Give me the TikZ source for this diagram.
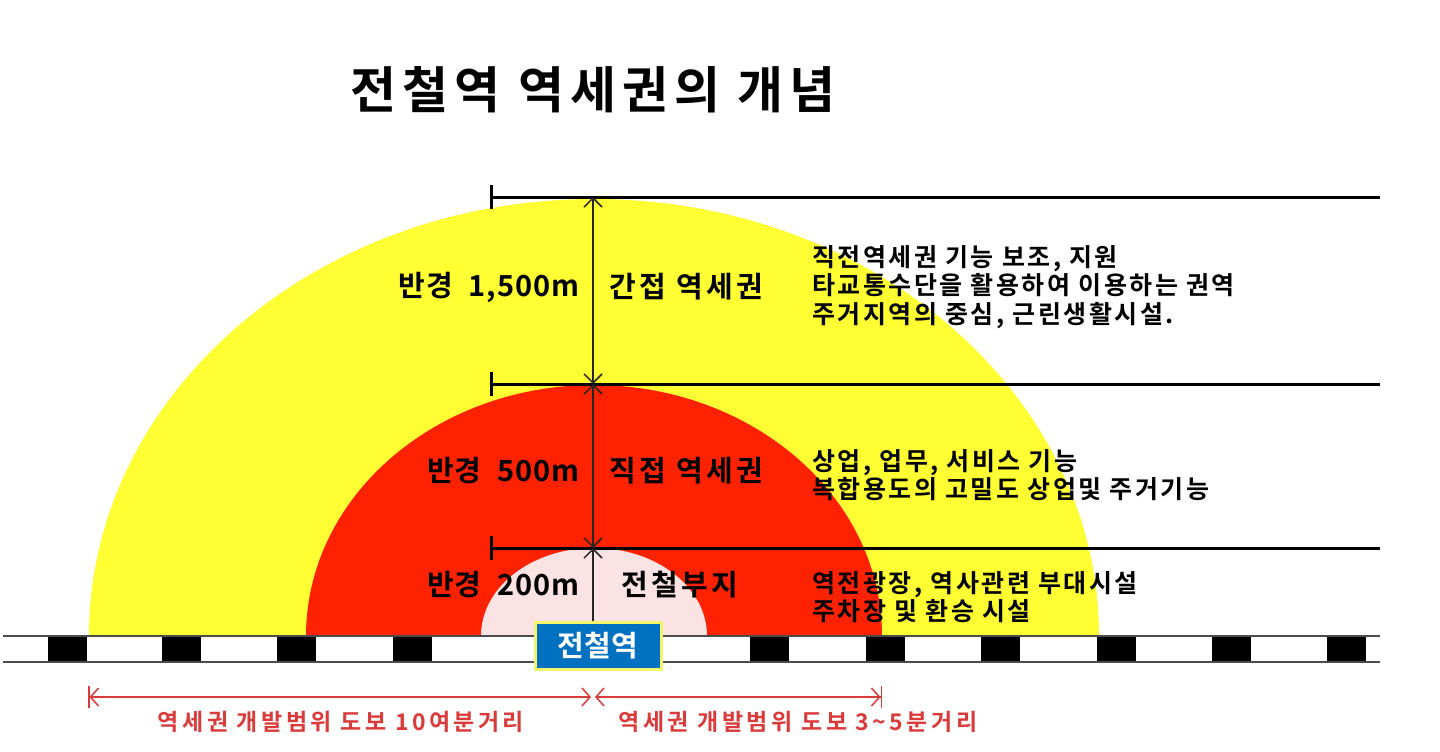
\documentclass[tikz,border=0pt]{standalone}
\usepackage{fontspec}
\setmainfont{Noto Sans CJK KR}[BoldFont={* Bold}]
\newfontfamily\titlefont{Noto Sans CJK KR}[BoldFont={* Bold},LetterSpace=12]
\newfontfamily\zonefont{Noto Sans CJK KR}[BoldFont={* Bold},LetterSpace=12]
\newfontfamily\radiusfont{Noto Sans CJK KR}[BoldFont={* Bold},LetterSpace=4,WordSpace=2]
\newfontfamily\notefont{Noto Sans CJK KR}[BoldFont={* Bold},LetterSpace=10]
\newfontfamily\rangefont{Noto Sans CJK KR}[BoldFont={* Bold},LetterSpace=15]
\usetikzlibrary{arrows.meta}
\definecolor{zoneyellow}{HTML}{FFFF33}
\definecolor{zonered}{HTML}{FF2200}
\definecolor{zonepink}{HTML}{FBE3E3}
\definecolor{stationblue}{HTML}{0070C0}
\definecolor{stationrim}{HTML}{F4F46A}
\definecolor{rangered}{HTML}{D93A3A}

\begin{document}
\begin{tikzpicture}[x=1pt,y=-1pt,
    levelline/.style={line width=3pt,{Bar[width=24pt,line width=3pt]}-},
    dimline/.style={line width=1.5pt,black!85,{Straight Barb[length=9pt,width=18pt]}-{Straight Barb[length=9pt,width=18pt]}},
    upline/.style={line width=1.5pt,black!85,-{Straight Barb[length=9pt,width=18pt]}},
    rangeleft/.style={line width=1.5pt,rangered,{Bar[width=22pt]Straight Barb[length=8pt,width=18pt]}-{Straight Barb[length=8pt,width=18pt]}},
    rangeright/.style={line width=1.5pt,rangered,{Straight Barb[length=8pt,width=18pt]}-{Straight Barb[length=8pt,width=18pt]Bar[width=22pt]}},
    radiuslabel/.style={inner sep=0pt,anchor=east,font=\radiusfont\fontsize{29}{34}\selectfont\bfseries},
    zonelabel/.style={inner sep=0pt,anchor=west,font=\zonefont\fontsize{29}{34}\selectfont\bfseries},
    note/.style={inner sep=0pt,anchor=west,align=left,font=\notefont\fontsize{25}{28.5}\selectfont\bfseries},
    rangelabel/.style={inner sep=0pt,text=rangered,font=\rangefont\fontsize{23}{26}\selectfont\bfseries},
    stationbox/.style={draw=stationrim,line width=3pt,fill=stationblue,text=white,
        minimum width=126pt,minimum height=47pt,inner sep=0pt,font=\fontsize{29}{30}\selectfont\bfseries}]
    \useasboundingbox (0,0) rectangle (1440,752);

    % title
    \node[inner sep=0pt,font=\titlefont\fontsize{50}{56}\selectfont\bfseries] (title) at (593,90) {전철역 역세권의 개념};

    % zones
    \coordinate (C) at (594,636);
    \fill[zoneyellow] (89,636) arc[start angle=180,end angle=360,x radius=505,y radius=437] -- cycle;
    \fill[zonered] (306,636) arc[start angle=180,end angle=360,x radius=288,y radius=251] -- cycle;
    \fill[zonepink] (481,636) arc[start angle=180,end angle=360,x radius=113,y radius=88] -- cycle;

    % track
    \draw[line width=2pt,black!70] (3,636) -- (1380,636);
    \draw[line width=2pt,black!70] (3,662) -- (1380,662);
    \foreach \x in {48,162,277,393,750,866,981,1097,1212,1327}
        \fill[black] (\x,637) rectangle ++(39,24);

    \node[stationbox] (station) at (598,646) {전철역};

    % levels
    \coordinate (L1) at (593,197);
    \coordinate (L2) at (593,384);
    \coordinate (L3) at (593,548);
    \draw[levelline] (490,197) -- (1380,197);
    \draw[levelline] (490,384) -- (1380,384);
    \draw[levelline] (490,548) -- (1380,548);

    \draw[dimline] (L1) -- (L2);
    \draw[dimline] (L2) -- (L3);
    \draw[upline] (station.north -| L3) -- (L3);

    \node[radiuslabel] (r1500) at (580,287) {반경 1,500m};
    \node[zonelabel] (indirect) at (609,287) {간접 역세권};
    \node[radiuslabel] (r500) at (580,471) {반경 500m};
    \node[zonelabel] (direct) at (609,471) {직접 역세권};
    \node[radiuslabel] (r200) at (580,585) {반경 200m};
    \node[zonelabel] (site) at (621,585) {전철부지};

    \node[note] (note1) at (812,287) {직전역세권 기능 보조, 지원\\타교통수단을 활용하여 이용하는 권역\\주거지역의 중심, 근린생활시설.};
    \node[note] (note2) at (812,475) {상업, 업무, 서비스 기능\\복합용도의 고밀도 상업및 주거기능};
    \node[note] (note3) at (812,597) {역전광장, 역사관련 부대시설\\주차장 및 환승 시설};

    % walking ranges
    \coordinate (W0) at (88,697);
    \coordinate (W1) at (591,697);
    \coordinate (W2) at (595,697);
    \coordinate (W3) at (882,697);
    \draw[rangeleft] (W0) -- (W1);
    \draw[rangeright] (W2) -- (W3);
    \node[rangelabel] (walk10) at (341,722) {역세권 개발범위 도보 10여분거리};
    \node[rangelabel] (walk5) at (798,722) {역세권 개발범위 도보 3\textasciitilde5분거리};
\end{tikzpicture}
\end{document}
